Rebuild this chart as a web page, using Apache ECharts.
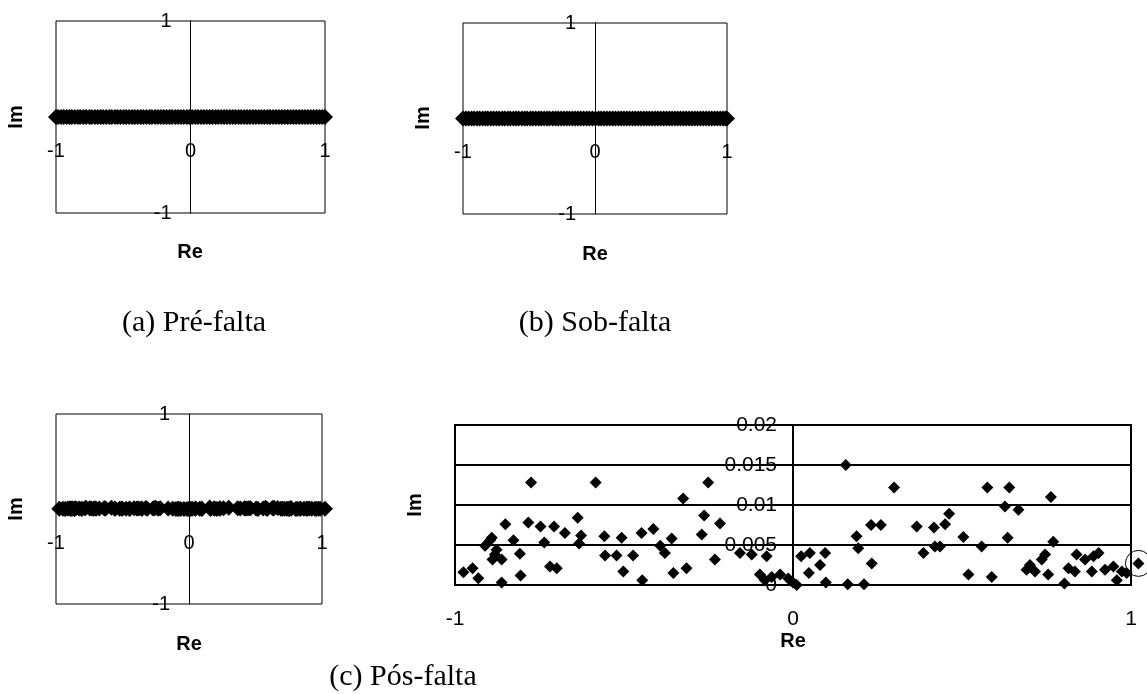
<!DOCTYPE html>
<html><head><meta charset="utf-8">
<script src="https://cdn.jsdelivr.net/npm/echarts@6/dist/echarts.min.js"></script>
<style>html,body{margin:0;padding:0;background:#fff}#c{width:1147px;height:694px}</style>
</head><body><div id="c"></div>
<script>
// (a) Pré-falta : eigenvalues on the real axis (Im = 0)
const preRe = [-1.0,-0.985,-0.962,-0.944,-0.921,-0.9,-0.883,-0.861,-0.838,-0.82,-0.797,-0.776,-0.752,-0.735,-0.711,-0.69,-0.668,-0.649,-0.627,-0.603,-0.585,-0.561,-0.542,-0.52,-0.497,-0.478,-0.456,-0.433,-0.414,-0.392,-0.37,-0.351,-0.328,-0.305,-0.287,-0.263,-0.242,-0.221,-0.2,-0.178,-0.156,-0.137,-0.113,-0.092,-0.071,-0.05,-0.027,-0.008,0.013,0.036,0.055,0.078,0.099,0.121,0.142,0.163,0.186,0.205,0.228,0.25,0.27,0.293,0.314,0.335,0.358,0.377,0.4,0.421,0.443,0.465,0.486,0.508,0.529,0.55,0.573,0.592,0.615,0.636,0.658,0.679,0.7,0.722,0.744,0.765,0.786,0.808,0.83,0.851,0.872,0.894,0.915,0.937,0.958,0.979,1.0];
// (b) Sob-falta
const sobRe = [-1.0,-0.978,-0.958,-0.935,-0.916,-0.893,-0.874,-0.851,-0.83,-0.812,-0.789,-0.768,-0.746,-0.727,-0.703,-0.684,-0.661,-0.642,-0.618,-0.597,-0.578,-0.554,-0.533,-0.514,-0.49,-0.471,-0.449,-0.426,-0.407,-0.385,-0.363,-0.344,-0.32,-0.299,-0.279,-0.257,-0.236,-0.214,-0.193,-0.171,-0.15,-0.129,-0.108,-0.086,-0.064,-0.043,-0.02,0.004,0.027,0.047,0.069,0.091,0.112,0.134,0.155,0.177,0.198,0.219,0.241,0.262,0.284,0.305,0.327,0.348,0.37,0.391,0.412,0.434,0.456,0.477,0.498,0.52,0.541,0.563,0.584,0.606,0.627,0.648,0.67,0.691,0.713,0.734,0.756,0.777,0.799,0.82,0.842,0.863,0.884,0.906,0.927,0.949,0.97,0.988,1.0];
// (c) Pós-falta
const posRe = [-0.975,-0.948,-0.931,-0.911,-0.896,-0.891,-0.882,-0.889,-0.877,-0.862,-0.862,-0.851,-0.827,-0.808,-0.806,-0.783,-0.775,-0.747,-0.736,-0.719,-0.699,-0.707,-0.675,-0.637,-0.627,-0.633,-0.584,-0.558,-0.556,-0.522,-0.507,-0.502,-0.473,-0.448,-0.446,-0.413,-0.393,-0.379,-0.359,-0.354,-0.325,-0.315,-0.27,-0.263,-0.251,-0.231,-0.216,-0.157,-0.122,-0.098,-0.083,-0.078,-0.063,-0.038,-0.014,0.0,0.011,0.024,0.047,0.05,0.08,0.095,0.097,0.156,0.162,0.188,0.193,0.21,0.231,0.233,0.26,0.299,0.366,0.386,0.417,0.42,0.435,0.45,0.462,0.504,0.519,0.558,0.575,0.588,0.627,0.635,0.64,0.667,0.691,0.701,0.716,0.736,0.746,0.755,0.763,0.77,0.803,0.815,0.834,0.839,0.864,0.884,0.889,0.904,0.923,0.948,0.958,0.973,0.987,1.022];
const posIm = [0.0016,0.0021,0.00085,0.0049,0.0056,0.0059,0.0038,0.0032,0.0044,0.0032,0.0003,0.0076,0.0056,0.0039,0.0012,0.0078,0.0128,0.0073,0.0053,0.0023,0.0021,0.0073,0.0065,0.0084,0.0062,0.0052,0.0128,0.0061,0.0037,0.0037,0.0059,0.0017,0.0037,0.0065,0.0006,0.007,0.0049,0.004,0.0058,0.0015,0.0108,0.0021,0.0063,0.0087,0.0128,0.0032,0.0077,0.004,0.0038,0.0013,0.0006,0.0036,0.001,0.0013,0.0008,0.0003,0.0,0.0036,0.0015,0.004,0.0025,0.004,0.0003,0.015,0.0001,0.0061,0.0046,0.0001,0.0075,0.0027,0.0075,0.0122,0.0073,0.004,0.0072,0.0048,0.0048,0.0076,0.0089,0.006,0.0013,0.0048,0.0122,0.001,0.0098,0.0059,0.0122,0.0094,0.0019,0.0025,0.0017,0.0032,0.0038,0.0013,0.011,0.0054,0.0002,0.0021,0.0017,0.0038,0.0032,0.0017,0.0036,0.004,0.0019,0.0023,0.0006,0.0017,0.0015,0.0027];
const circledIndex = [posRe.length - 1];
const captions = ['(a) Pré-falta', '(b) Sob-falta', '(c) Pós-falta'];

const SANS = 'Liberation Sans, Arial, sans-serif';
const SERIF = 'Liberation Serif, Times New Roman, serif';
const labSmall = {color:'#000', fontSize:20, fontFamily:SANS};
const labBig = {color:'#000', fontSize:21, fontFamily:SANS};

function smallX(i, off){
  return {gridIndex:i, type:'value', min:-1, max:1, interval:1, position:'bottom', offset:off,
    axisLine:{onZero:false, lineStyle:{color:'#000', width:1}},
    axisTick:{show:false}, splitLine:{show:false},
    axisLabel:Object.assign({margin:24}, labSmall)};
}
function smallY(i, off){
  return {gridIndex:i, type:'value', min:-1, max:1, interval:1, position:'left', offset:off,
    axisLine:{onZero:false, lineStyle:{color:'#000', width:1}},
    axisTick:{show:false}, splitLine:{show:false},
    axisLabel:Object.assign({margin:19, formatter:v => v === 0 ? '' : String(v)}, labSmall)};
}
const gridBase = {show:true, borderColor:'#000', borderWidth:1, containLabel:false, outerBoundsMode:'none'};
const dot = {color:'#000', opacity:1};

function txt(s, x, y, font, rot){
  return {type:'text', x:x, y:y, rotation:rot || 0, silent:true,
    style:{text:s, fill:'#000', font:font, textAlign:'center', textVerticalAlign:'middle'}};
}
const NAMEFONT = 'bold 20px ' + SANS;
const CAPFONT = '30px ' + SERIF;

const option = {
  animation:false,
  backgroundColor:'#fff',
  grid:[
    Object.assign({left:56, top:21, width:269, height:192}, gridBase),
    Object.assign({left:463, top:23, width:264, height:191}, gridBase),
    Object.assign({left:56, top:414, width:266, height:190}, gridBase),
    Object.assign({}, gridBase, {left:455, top:425, width:676, height:160, borderWidth:2})
  ],
  xAxis:[
    smallX(0, -96), smallX(1, -95.5), smallX(2, -95),
    {gridIndex:3, type:'value', min:-1, max:1, interval:1, position:'bottom',
      axisLine:{onZero:false, lineStyle:{color:'#000', width:2}},
      axisTick:{show:false}, splitLine:{show:false},
      axisLabel:Object.assign({margin:24}, labBig)}
  ],
  yAxis:[
    smallY(0, -134.5), smallY(1, -132), smallY(2, -133),
    {gridIndex:3, type:'value', min:0, max:0.02, interval:0.005, position:'left', offset:-338,
      axisLine:{onZero:false, lineStyle:{color:'#000', width:2}},
      axisTick:{show:false},
      splitLine:{show:true, lineStyle:{color:'#000', width:2}},
      axisLabel:Object.assign({margin:16}, labBig)}
  ],
  series:[
    {type:'scatter', xAxisIndex:0, yAxisIndex:0, symbol:'diamond', symbolSize:16, clip:false,
      itemStyle:dot, data:preRe.map(x => [x, 0])},
    {type:'scatter', xAxisIndex:1, yAxisIndex:1, symbol:'diamond', symbolSize:16, clip:false,
      itemStyle:dot, data:sobRe.map(x => [x, 0])},
    {type:'scatter', xAxisIndex:2, yAxisIndex:2, symbol:'diamond', symbolSize:16, clip:false,
      itemStyle:dot, data:posRe.map((x, k) => [x, posIm[k]])},
    {type:'scatter', xAxisIndex:3, yAxisIndex:3, symbol:'diamond', symbolSize:12, clip:false,
      itemStyle:dot, data:posRe.map((x, k) => [x, posIm[k]])},
    {type:'scatter', xAxisIndex:3, yAxisIndex:3, symbol:'circle', symbolSize:26, clip:false, silent:true,
      itemStyle:{color:'rgba(0,0,0,0)', borderColor:'#000', borderWidth:1, opacity:1},
      data:circledIndex.map(k => [posRe[k], posIm[k]])}
  ],
  graphic:[
    txt('Im', 16, 117, NAMEFONT, Math.PI / 2),
    txt('Re', 190, 252, NAMEFONT),
    txt('Im', 423, 118, NAMEFONT, Math.PI / 2),
    txt('Re', 595, 254, NAMEFONT),
    txt('Im', 16, 509, NAMEFONT, Math.PI / 2),
    txt('Re', 189, 644, NAMEFONT),
    txt('Im', 415, 505, NAMEFONT, Math.PI / 2),
    txt('Re', 793, 641, NAMEFONT),
    txt(captions[0], 194, 323, CAPFONT),
    txt(captions[1], 595, 323, CAPFONT),
    txt(captions[2], 403, 677, CAPFONT)
  ]
};
echarts.init(document.getElementById('c')).setOption(option);
</script></body></html>
